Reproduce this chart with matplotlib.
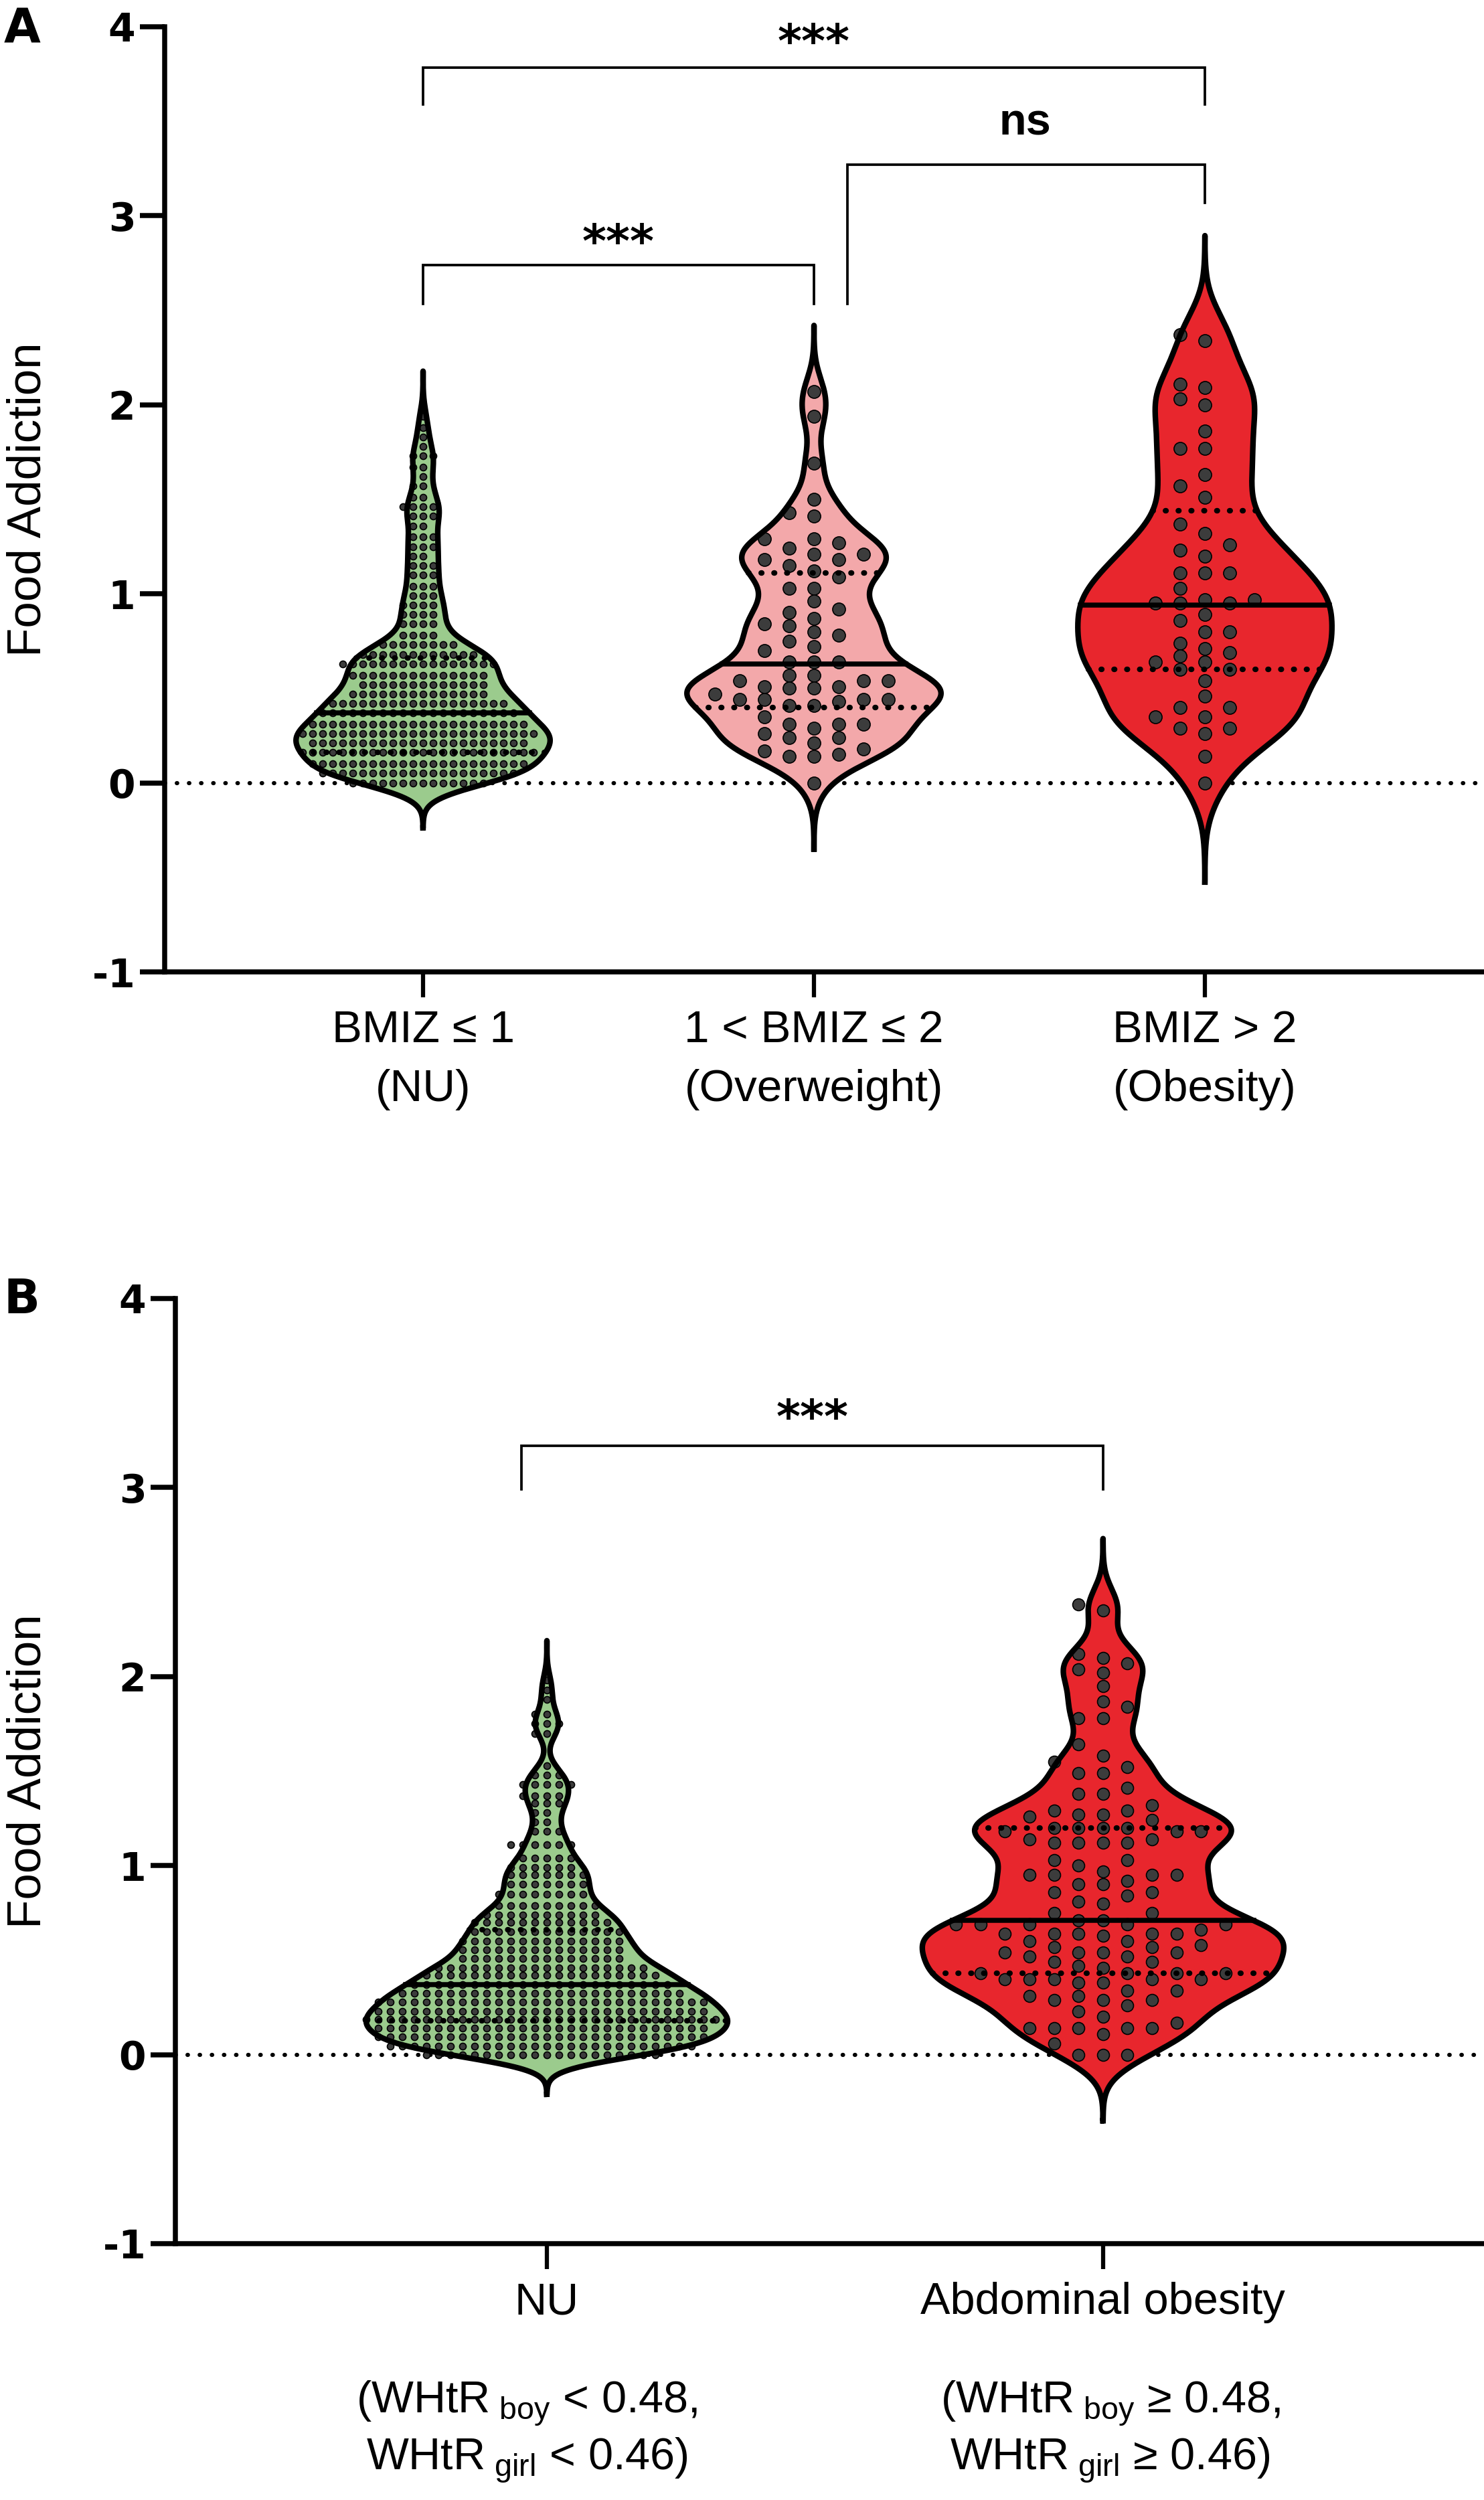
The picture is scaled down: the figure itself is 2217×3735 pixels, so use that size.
import numpy as np
import matplotlib
matplotlib.use('Agg')
import matplotlib.pyplot as plt

plt.rcParams['font.family'] = ['Liberation Sans', 'DejaVu Sans']
plt.rcParams['mathtext.fontset'] = 'custom'
plt.rcParams['mathtext.rm'] = 'Liberation Sans'
plt.rcParams['mathtext.it'] = 'Liberation Sans:italic'
plt.rcParams['mathtext.bf'] = 'Liberation Sans:bold'

# ---------------- data ----------------
# panel A
cats_a_line1 = ['BMIZ ≤ 1', '1 < BMIZ ≤ 2', 'BMIZ > 2']
cats_a_line2 = ['(NU)', '(Overweight)', '(Obesity)']

green_a_levels = [0.00, 0.05, 0.10, 0.16, 0.21, 0.26, 0.31, 0.37, 0.42, 0.47,
                  0.52, 0.57, 0.63, 0.68, 0.73, 0.78, 0.84, 0.89, 0.94, 0.99,
                  1.04, 1.10, 1.15, 1.20, 1.25, 1.30, 1.36, 1.41, 1.46, 1.51,
                  1.57, 1.62, 1.67, 1.73, 1.78, 1.83, 1.88, 1.94]
green_a_counts = [14, 20, 22, 24, 22, 24, 22, 20, 18, 14,
                  13, 14, 16, 12, 8, 4, 4, 4, 4, 3,
                  3, 3, 3, 2, 3, 3, 2, 3, 4, 2,
                  2, 1, 2, 3, 1, 1, 1, 1]

pink_a = [2.07, 1.94, 1.69, 0.00,
          1.50, 1.41, 1.18, 1.03, 0.96, 0.87, 0.78, 0.70, 0.57, 0.47, 0.31, 0.18,
          1.43, 1.29, 1.15, 1.03, 0.90, 0.80, 0.72, 0.64, 0.51, 0.44, 0.35, 0.26, 0.14,
          1.29, 1.21, 1.12, 0.84, 0.75, 0.64, 0.54, 0.44, 0.31, 0.24, 0.14,
          1.21, 0.50, 0.41, 0.31, 0.21,
          1.24, 1.09, 0.92, 0.83, 0.64, 0.54, 0.44, 0.29, 0.17,
          1.27, 1.18, 0.51, 0.43, 0.24, 0.15,
          0.57, 0.50, 0.41,
          0.54, 0.44]

red_a = [2.34, 2.37, 2.09, 2.11, 2.03, 2.00, 1.86, 1.77, 1.77, 1.63, 1.57, 1.51,
         1.37, 1.26, 1.32, 1.23, 1.20, 1.11, 1.11, 1.11, 1.03, 0.97, 0.95, 0.95,
         0.97, 0.95, 0.86, 0.89, 0.80, 0.80, 0.74, 0.71, 0.69, 0.67, 0.64, 0.64,
         0.60, 0.54, 0.60, 0.46, 0.40, 0.40, 0.35, 0.35, 0.29, 0.29, 0.26, 0.14, 0.00]

q1_a = [0.16, 0.40, 0.60]
med_a = [0.37, 0.63, 0.94]
q3_a = [0.66, 1.11, 1.44]

# panel B
cats_b_line1 = ['NU', 'Abdominal obesity']
cats_b_line2 = [r'(WHtR$_{\rm\ boy}$ < 0.48,', r'(WHtR$_{\rm\ boy}$ ≥ 0.48,']
cats_b_line3 = [r'WHtR$_{\rm\ girl}$ < 0.46)', r'WHtR$_{\rm\ girl}$ ≥ 0.46)']

green_b_levels = [0.00, 0.046, 0.093, 0.14, 0.185, 0.23, 0.28, 0.325, 0.37, 0.42,
                  0.46, 0.51, 0.555, 0.60, 0.65, 0.70, 0.74, 0.79, 0.85, 0.90,
                  0.95, 0.99, 1.04, 1.11, 1.18, 1.23, 1.28, 1.33, 1.37, 1.43,
                  1.48, 1.53, 1.70, 1.75, 1.80, 1.88, 1.93, 1.98]
green_b_counts = [20, 26, 28, 28, 30, 28, 28, 24, 22, 20,
                  18, 14, 14, 14, 13, 12, 10, 9, 8, 7,
                  7, 6, 5, 6, 3, 2, 2, 3, 4, 5,
                  3, 1, 2, 3, 2, 1, 1, 1]

red_b = [2.35, 2.12, 2.04, 1.78, 1.64, 1.52, 1.20, 1.12, 1.03, 0.95, 0.80, 0.69,
         0.60, 0.52, 0.43, 0.34, 0.26, 0.14, 0.06,
         2.38, 2.07, 1.95, 1.87, 1.78, 1.58, 1.49, 1.38, 1.29, 1.20, 1.12, 0.97,
         0.90, 0.81, 0.71, 0.64, 0.54, 0.43, 0.29, 0.14, 0.00,
         2.10, 2.02, 1.84, 1.55, 1.41, 1.26, 1.14, 1.00, 0.92, 0.84, 0.75, 0.66,
         0.58, 0.43, 0.31, 0.11, 0.00,
         1.49, 1.38, 1.29, 1.20, 1.12, 0.95, 0.86, 0.75, 0.64, 0.54, 0.40, 0.31,
         0.23, 0.14, 0.00,
         1.24, 1.14, 0.95, 0.86, 0.64, 0.54, 0.38, 0.29, 0.14,
         1.32, 1.20, 1.12, 1.03, 0.90, 0.69, 0.57, 0.40, 0.29, 0.17,
         1.27, 1.18, 0.95, 0.71, 0.63, 0.54, 0.47, 0.38, 0.14,
         1.27, 1.18, 0.69, 0.60, 0.52, 0.43, 0.34, 0.20,
         0.69, 0.57, 0.40,
         1.18, 0.69, 0.49, 0.40,
         0.64, 0.46,
         0.64, 0.49, 0.40]

q1_b = [0.18, 0.43]
med_b = [0.37, 0.71]
q3_b = [0.66, 1.20]

green = '#9BCB8D'
pink = '#F3A8AA'
red = '#E8262D'
dot_col = '#3C3C3C'


def kde_shape(vals, h, cut=3.5, n=800):
    vals = np.asarray(vals, float)
    grid = np.linspace(vals.min() - cut * h, vals.max() + cut * h, n)
    dens = np.exp(-0.5 * ((grid[:, None] - vals[None, :]) / h) ** 2).sum(1)
    return grid, dens / dens.max()


def swarm(vals, ax, step_px, dot_px):
    # simple grid beeswarm in pixel space
    p = ax.transData.transform([[0, 0], [1, 1]])
    ppx, ppy = p[1, 0] - p[0, 0], abs(p[1, 1] - p[0, 1])
    vals = np.asarray(vals, float)
    xs = np.zeros(len(vals))
    px, py = [], []
    cand = [0.0]
    for k in range(1, 80):
        cand += [-k * step_px / 2, k * step_px / 2]
    for i in np.argsort(vals, kind='stable'):
        y = vals[i] * ppy
        pxa, pya = np.array(px), np.array(py)
        for c in cand:
            if len(pxa) == 0:
                break
            near = np.abs(pya - y) < dot_px
            if not np.any(near & (np.abs(pxa - c) < step_px * 0.999)):
                break
        xs[i] = c / ppx
        px.append(c)
        py.append(y)
    return xs


def violin(ax, pos, vals, color, h, q1, med, q3, step_px, dot_px, msize, half=0.325):
    grid, d = kde_shape(vals, h)
    w = half * d
    ax.fill_betweenx(grid, pos - w, pos + w, facecolor=color, edgecolor='none', zorder=2)
    xs = swarm(vals, ax, step_px, dot_px)
    ax.scatter(pos + xs, vals, s=msize ** 2, color=dot_col, edgecolor='black',
               linewidth=0.4, zorder=3)
    for q, ls in [(q1, (0, (0.1, 2.2))), (med, '-'), (q3, (0, (0.1, 2.2)))]:
        wq = np.interp(q, grid, w)
        ax.plot([pos - wq, pos + wq], [q, q], color='black', lw=1.8 if ls == '-' else 2.0,
                ls=ls, dash_capstyle='round', zorder=4)
    ox = np.concatenate([pos - w, (pos + w)[::-1], [pos - w[0]]])
    oy = np.concatenate([grid, grid[::-1], [grid[0]]])
    ax.plot(ox, oy, color='black', lw=2.0, solid_joinstyle='round', zorder=5)


def style_axis(ax, xlim):
    ax.set_xlim(*xlim)
    ax.set_ylim(-1, 4)
    for s in ['top', 'right']:
        ax.spines[s].set_visible(False)
    for s in ['left', 'bottom']:
        ax.spines[s].set_linewidth(1.8)
    ax.set_yticks([-1, 0, 1, 2, 3, 4])
    ax.set_yticklabels(['-1', '0', '1', '2', '3', '4'], fontfamily='DejaVu Sans',
                       fontweight='bold', fontsize=14)
    ax.tick_params(axis='y', length=9, width=1.8, pad=1.5)
    ax.tick_params(axis='x', length=9, width=1.5, labelbottom=False)
    ax.axhline(0, color='black', lw=1.5, ls=(0, (0.1, 2.8)), dash_capstyle='round', zorder=1)


def bracket(ax, x1, x2, y, y1, y2):
    ax.plot([x1, x1, x2, x2], [y1, y, y, y2], color='black', lw=0.9, zorder=6,
            solid_joinstyle='miter')


fig = plt.figure(figsize=(2217 / 300, 3735 / 300), dpi=300)

# ---------------- panel A ----------------
axA = fig.add_axes([246 / 2217, 1 - 1452 / 3735, 1 - 246 / 2217, (1452 - 40) / 3735])
style_axis(axA, (-0.661, 2.714))
axA.set_xticks([0, 1, 2])
green_a = np.repeat(green_a_levels, green_a_counts)
violin(axA, 0, green_a, green, 0.068, q1_a[0], med_a[0], q3_a[0], 15, 8, 2.4)
violin(axA, 1, pink_a, pink, 0.10, q1_a[1], med_a[1], q3_a[1], 37, 19, 4.6)
violin(axA, 2, red_a, red, 0.15, q1_a[2], med_a[2], q3_a[2], 37, 19, 4.6)
for i in range(3):
    axA.annotate(cats_a_line1[i], xy=(i, 0), xycoords=('data', 'axes fraction'),
                 xytext=(0, -25.2), textcoords='offset points', ha='center',
                 va='baseline', fontsize=16.2, annotation_clip=False)
    axA.annotate(cats_a_line2[i], xy=(i, 0), xycoords=('data', 'axes fraction'),
                 xytext=(0, -46.3), textcoords='offset points', ha='center',
                 va='baseline', fontsize=16.2, annotation_clip=False)

bracket(axA, 0, 2, 3.785, 3.59, 3.59)
bracket(axA, 1.085, 2, 3.27, 2.535, 3.07)
bracket(axA, 0, 1, 2.74, 2.535, 2.535)
axA.text(1.0, 3.91, '***', ha='center', va='center', fontfamily='DejaVu Sans',
         fontweight='bold', fontsize=16.5)
axA.text(0.5, 2.85, '***', ha='center', va='center', fontfamily='DejaVu Sans',
         fontweight='bold', fontsize=16.5)
axA.text(1.54, 3.49, 'ns', ha='center', va='center', fontweight='bold', fontsize=16)

# ---------------- panel B ----------------
axB = fig.add_axes([262 / 2217, 1 - 3352 / 3735, 1 - 262 / 2217, (3352 - 1940) / 3735])
style_axis(axB, (-0.668, 1.685))
axB.set_xticks([0, 1])
green_b = np.repeat(green_b_levels, green_b_counts)
violin(axB, 0, green_b, green, 0.06, q1_b[0], med_b[0], q3_b[0], 18, 8, 2.4)
violin(axB, 1, red_b, red, 0.10, q1_b[1], med_b[1], q3_b[1], 36.6, 18, 4.3)
sub_shift = [-0.036, 0.013]
for i in range(2):
    axB.annotate(cats_b_line1[i], xy=(i, 0), xycoords=('data', 'axes fraction'),
                 xytext=(0, -25.2), textcoords='offset points', ha='center',
                 va='baseline', fontsize=16, annotation_clip=False)
    axB.annotate(cats_b_line2[i], xy=(i + sub_shift[i], 0), xycoords=('data', 'axes fraction'),
                 xytext=(0, -60.7), textcoords='offset points', ha='center',
                 va='baseline', fontsize=16, annotation_clip=False)
    axB.annotate(cats_b_line3[i], xy=(i + sub_shift[i], 0), xycoords=('data', 'axes fraction'),
                 xytext=(0, -80.9), textcoords='offset points', ha='center',
                 va='baseline', fontsize=16, annotation_clip=False)

bracket(axB, -0.046, 1, 3.22, 2.99, 2.99)
axB.text(0.477, 3.36, '***', ha='center', va='center', fontfamily='DejaVu Sans',
         fontweight='bold', fontsize=16.5)

# y labels and panel letters
for yc in [1 - 746 / 3735, 1 - 2646 / 3735]:
    fig.text(43 / 2217, yc, 'Food Addiction', rotation=90, ha='center', va='center',
             fontsize=17)
fig.text(33 / 2217, 1 - 44 / 3735, 'A', ha='center', va='center', fontfamily='DejaVu Sans',
         fontweight='bold', fontsize=17)
fig.text(33 / 2217, 1 - 1943 / 3735, 'B', ha='center', va='center', fontfamily='DejaVu Sans',
         fontweight='bold', fontsize=17)

fig.savefig('out.png', dpi=300)
